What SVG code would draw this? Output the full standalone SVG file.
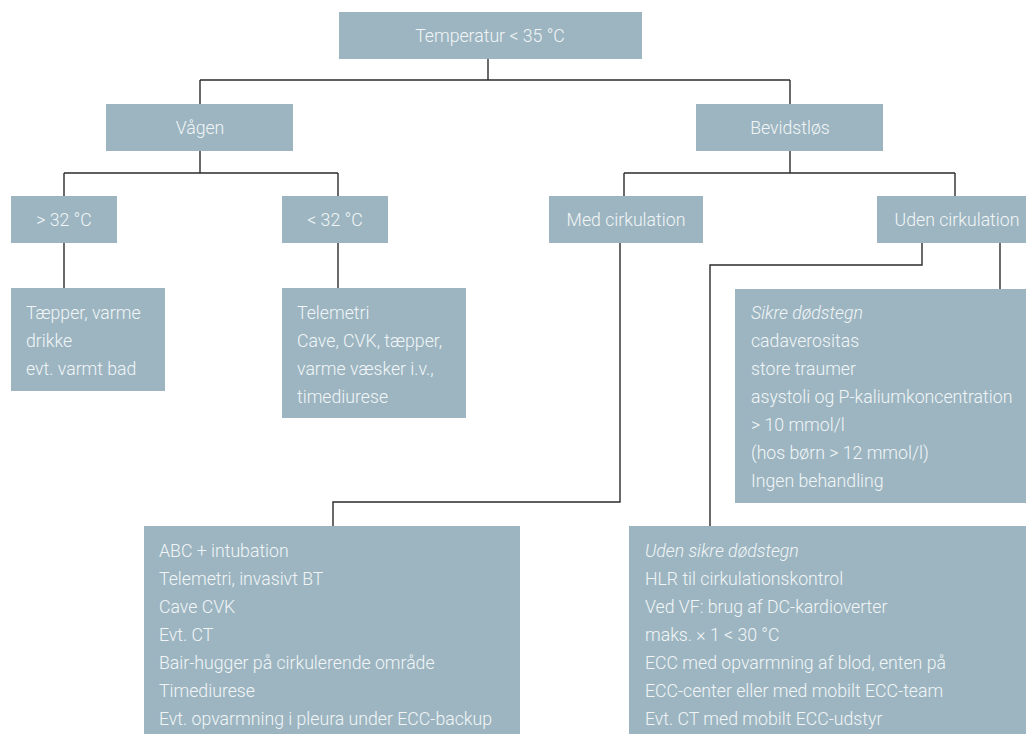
<svg xmlns="http://www.w3.org/2000/svg" width="1026" height="734" viewBox="0 0 1026 734">
<style>
.box{fill:#9cb5c1}
.t{font-family:Roboto,"Open Sans","Liberation Sans",sans-serif;font-size:17.7px;fill:#f2f5f7;font-weight:300}
.c{text-anchor:middle}
.i{font-style:italic}
.ln{fill:none;stroke:#2b2b2b;stroke-width:1.4}
</style>
<g id="connectors">
<path class="ln" d="M488 59V80M200 80H790M200 80V104M790 80V104"/>
<path class="ln" d="M200 151V173M64 173H338M64 173V196M338 173V196"/>
<path class="ln" d="M790 151V173M624 173H955M624 173V196M955 173V196"/>
<path class="ln" d="M64 243V288M338 243V288"/>
<path class="ln" d="M620 243V502H333V526"/>
<path class="ln" d="M922 243V265H710V526"/>
<path class="ln" d="M1000 243V289"/>
</g>
<g id="n-temp"><rect class="box" x="339" y="12" width="303" height="47"/><text class="t c" x="490" y="42">Temperatur &lt; 35 °C</text></g>
<g id="n-vagen"><rect class="box" x="106" y="104" width="187" height="47"/><text class="t c" x="200" y="134">Vågen</text></g>
<g id="n-bevidst"><rect class="box" x="696" y="104" width="187" height="47"/><text class="t c" x="790" y="134">Bevidstløs</text></g>
<g id="n-gt32"><rect class="box" x="11" y="196" width="106" height="47"/><text class="t c" x="64" y="226">&gt; 32 °C</text></g>
<g id="n-lt32"><rect class="box" x="282" y="196" width="106" height="47"/><text class="t c" x="335" y="226">&lt; 32 °C</text></g>
<g id="n-med"><rect class="box" x="549" y="196" width="154" height="47"/><text class="t c" x="626" y="226">Med cirkulation</text></g>
<g id="n-uden"><rect class="box" x="877" y="196" width="160" height="47"/><text class="t c" x="957" y="226">Uden cirkulation</text></g>
<g id="n-taepper"><rect class="box" x="11" y="288" width="154" height="103"/>
<text class="t" x="26" y="319">Tæpper, varme</text>
<text class="t" x="26" y="347">drikke</text>
<text class="t" x="26" y="375">evt. varmt bad</text></g>
<g id="n-telemetri"><rect class="box" x="282" y="288" width="184" height="130"/>
<text class="t" x="297" y="319">Telemetri</text>
<text class="t" x="297" y="347">Cave, CVK, tæpper,</text>
<text class="t" x="297" y="375">varme væsker i.v.,</text>
<text class="t" x="297" y="403">timediurese</text></g>
<g id="n-sikre"><rect class="box" x="735" y="289" width="300" height="214"/>
<text class="t i" x="751" y="319">Sikre dødstegn</text>
<text class="t" x="751" y="347">cadaverositas</text>
<text class="t" x="751" y="375">store traumer</text>
<text class="t" x="751" y="403">asystoli og P-kaliumkoncentration</text>
<text class="t" x="751" y="431">&gt; 10 mmol/l</text>
<text class="t" x="751" y="459">(hos børn &gt; 12 mmol/l)</text>
<text class="t" x="751" y="487">Ingen behandling</text></g>
<g id="n-abc"><rect class="box" x="144" y="526" width="376" height="220"/>
<text class="t" x="159" y="557">ABC + intubation</text>
<text class="t" x="159" y="585">Telemetri, invasivt BT</text>
<text class="t" x="159" y="613">Cave CVK</text>
<text class="t" x="159" y="641">Evt. CT</text>
<text class="t" x="159" y="669">Bair-hugger på cirkulerende område</text>
<text class="t" x="159" y="697">Timediurese</text>
<text class="t" x="159" y="725">Evt. opvarmning i pleura under ECC-backup</text></g>
<g id="n-uden-sikre"><rect class="box" x="629" y="526" width="410" height="220"/>
<text class="t i" x="645" y="557">Uden sikre dødstegn</text>
<text class="t" x="645" y="585">HLR til cirkulationskontrol</text>
<text class="t" x="645" y="613">Ved VF: brug af DC-kardioverter</text>
<text class="t" x="645" y="641">maks. × 1 &lt; 30 °C</text>
<text class="t" x="645" y="669">ECC med opvarmning af blod, enten på</text>
<text class="t" x="645" y="697">ECC-center eller med mobilt ECC-team</text>
<text class="t" x="645" y="725">Evt. CT med mobilt ECC-udstyr</text></g>
</svg>
